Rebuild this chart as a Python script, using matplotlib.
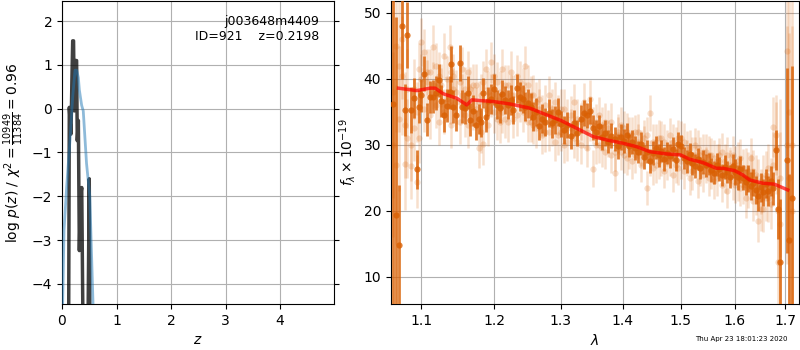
import numpy as np
import matplotlib
matplotlib.use("Agg")
import matplotlib.pyplot as plt
from matplotlib.ticker import NullLocator, FixedLocator, FixedFormatter

# ---------------- left panel data: log p(z) ----------------
z_fit = [0.0, 0.012, 0.037, 0.086, 0.147, 0.196, 0.239, 0.269, 0.30, 0.318,
         0.36, 0.39, 0.45, 0.51, 0.57, 0.60]
logp_fit = [-6.0, -4.45, -2.77, -1.78, -0.71, 0.27, 0.88, 0.88, 0.71, 0.43,
            0.08, -0.05, -1.25, -2.0, -4.5, -5.5]

z_chi = [0.110, 0.122, 0.134, 0.150, 0.165, 0.181, 0.196, 0.212, 0.226, 0.240,
         0.252, 0.268, 0.280, 0.300, 0.318, 0.340, 0.362, 0.392, 0.430, 0.470,
         0.500, 0.515, 0.540]
logp_chi = [-8.0, -5.0, 0.03, -0.3, -0.58, 0.6, 1.55, 1.55, -0.05, 1.1,
            1.1, 1.1, -0.73, -0.27, -3.24, -2.0, -1.80, -6.0, -9.0, -6.0,
            -1.60, -6.0, -9.0]

# ---------------- right panel data: spectrum ----------------
wave = [1.064, 1.067, 1.071, 1.075, 1.079, 1.082, 1.087, 1.090, 1.094, 1.097,
        1.100, 1.104, 1.108, 1.112, 1.116, 1.120, 1.123, 1.126, 1.130, 1.134,
        1.138, 1.140, 1.143, 1.147, 1.152, 1.155, 1.159, 1.163, 1.166, 1.170,
        1.174, 1.178, 1.181, 1.184, 1.188, 1.192, 1.196, 1.200, 1.204, 1.208,
        1.212, 1.216, 1.220, 1.224, 1.228, 1.233, 1.238, 1.242, 1.246, 1.250,
        1.254, 1.258, 1.262, 1.266, 1.271, 1.276, 1.281, 1.286, 1.291, 1.296,
        1.300, 1.305, 1.310, 1.315, 1.320, 1.326, 1.331, 1.336, 1.341, 1.346,
        1.351, 1.356, 1.361, 1.366, 1.371, 1.376, 1.381, 1.386, 1.391, 1.396,
        1.401, 1.406, 1.411, 1.416, 1.421, 1.426, 1.431, 1.436, 1.441, 1.446,
        1.451, 1.456, 1.461, 1.466, 1.471, 1.476, 1.481, 1.486, 1.491, 1.496,
        1.501, 1.506, 1.511, 1.516, 1.521, 1.526, 1.531, 1.536, 1.541, 1.546,
        1.551, 1.556, 1.561, 1.566, 1.571, 1.576, 1.581, 1.586, 1.591, 1.596,
        1.601, 1.606, 1.611, 1.616, 1.621, 1.626, 1.631, 1.636, 1.641, 1.646,
        1.651, 1.656, 1.661, 1.666, 1.671, 1.676, 1.681, 1.686, 1.689,
        1.704, 1.707, 1.713]

flux_bin = [36.2, 19.4, 14.9, 48.0, 35.3, 46.7, 35.3, 37.1, 26.3, 35.8,
            37.5, 40.8, 33.8, 37.3, 37.3, 37.9, 39.8, 36.6, 34.5, 35.9,
            38.0, 42.3, 35.8, 34.5, 42.4, 35.8, 35.6, 37.9, 33.8, 35.2,
            33.0, 33.9, 33.4, 37.9, 34.2, 36.6, 37.0, 38.4, 36.1, 35.6,
            37.7, 36.8, 36.1, 36.8, 35.3, 38.6, 37.3, 36.9, 35.8, 36.3,
            35.8, 34.3, 35.0, 32.8, 34.0, 33.5, 34.8, 33.3, 33.8, 35.0,
            33.2, 32.3, 33.0, 31.3, 33.3, 31.8, 33.9, 34.8, 34.5, 35.2,
            32.6, 31.9, 32.8, 31.2, 31.8, 30.5, 31.4, 30.9, 29.8, 31.2,
            30.6, 31.5, 29.9, 30.4, 29.5, 28.9, 30.2, 28.2, 29.0, 27.6,
            28.8, 29.6, 28.4, 29.1, 27.9, 28.8, 28.3, 29.4, 27.7, 30.2,
            29.8, 28.0, 27.5, 28.6, 27.2, 26.8, 27.9, 26.5, 27.4, 26.9,
            27.1, 26.2, 25.8, 27.0, 26.4, 25.4, 26.6, 25.9, 25.2, 26.8,
            25.9, 25.1, 26.3, 25.0, 24.4, 24.9, 23.8, 24.3, 23.2, 22.2,
            23.6, 22.8, 24.1, 23.0, 24.5, 23.4, 29.2, 20.3, 12.3,
            27.7, 15.6, 21.9]

err_bin = [40, 30, 9, 8, 4, 5, 3.5, 3, 3, 2.5,
           2.5, 2.6, 2.5, 2.4, 2.5, 2.6, 2.5, 2.4, 2.5, 2.5,
           2.5, 2.7, 2.5, 2.4, 2.7, 2.5, 2.4, 2.5, 2.5, 2.4,
           2.3, 2.3, 2.2, 2.3, 2.3, 2.2, 2.3, 2.3, 2.2, 2.3,
           2.2, 2.1, 2.2, 2.2, 2.1, 2.2, 2.2, 2.1, 2.2, 2.2,
           2.1, 2.2, 2.1, 2.1, 2.2, 2.1, 2.1, 2.2, 2.1, 2.1,
           2.0, 2.1, 2.0, 1.9, 2.0, 2.0, 2.1, 2.0, 1.9, 2.0,
           1.9, 1.9, 1.8, 1.9, 1.9, 1.8, 1.9, 1.8, 1.9, 1.9,
           1.8, 1.8, 1.7, 1.8, 1.8, 1.7, 1.8, 1.8, 1.7, 1.8,
           1.8, 1.7, 1.8, 1.7, 1.8, 1.7, 1.8, 1.8, 1.7, 1.8,
           1.7, 1.7, 1.8, 1.7, 1.7, 1.8, 1.7, 1.7, 1.8, 1.7,
           1.7, 1.8, 1.7, 1.7, 1.8, 1.7, 1.8, 1.7, 1.8, 1.8,
           1.9, 1.9, 2.0, 1.9, 2.0, 2.0, 2.1, 2.0, 2.1, 2.2,
           2.2, 2.1, 2.2, 2.3, 2.3, 2.5, 3.0, 4.5, 9.5,
           14, 10, 20]

flux_a = [30.0, 27.0, 42.0, 46.0, 27.1, 31.0, 26.8, 38.5, 24.4, 31.0,
          45.6, 44.0, 39.5, 41.0, 44.8, 36.0, 40.5, 39.0, 43.5, 37.0,
          44.8, 41.0, 38.5, 36.5, 39.5, 37.5, 34.5, 41.0, 36.0, 39.0,
          35.5, 29.6, 37.5, 30.1, 41.5, 38.0, 42.5, 35.0, 39.5, 33.5,
          41.5, 34.0, 39.0, 37.5, 34.0, 40.5, 36.5, 38.5, 42.0, 33.5,
          37.5, 33.0, 36.5, 35.5, 31.5, 36.0, 32.0, 35.5, 30.5, 34.5,
          35.5, 30.0, 34.0, 32.5, 36.5, 30.5, 33.5, 36.5, 32.0, 37.0,
          26.4, 33.5, 30.0, 33.0, 29.0, 32.5, 28.5, 25.8, 32.0, 29.0,
          32.5, 28.0, 31.5, 27.5, 32.0, 30.5, 27.0, 31.0, 23.5, 34.8,
          26.5, 30.5, 27.5, 31.0, 26.0, 29.5, 31.5, 25.5, 30.0, 26.5,
          31.0, 26.0, 29.5, 25.0, 28.5, 30.0, 24.5, 28.5, 25.5, 29.0,
          25.0, 28.5, 24.5, 27.5, 28.5, 24.0, 27.5, 23.0, 27.0, 28.5,
          24.0, 27.5, 23.5, 26.5, 22.0, 26.0, 28.0, 21.5, 25.5, 18.5,
          20.3, 25.0, 22.0, 26.5, 21.0, 32.7, 31.5, 12.3, 25.0,
          44.3, 35.0, 30.0]

err_a = [14, 12, 10, 9, 7, 6, 5, 4.5, 4, 3.8,
         3.6, 3.5, 3.4, 3.5, 3.3, 3.4, 3.5, 3.3, 3.4, 3.3,
         3.3, 3.4, 3.2, 3.3, 3.4, 3.2, 3.3, 3.3, 3.2, 3.3,
         3.2, 3.1, 3.2, 3.2, 3.1, 3.2, 3.1, 3.2, 3.1, 3.2,
         3.1, 3.0, 3.1, 3.1, 3.0, 3.1, 3.0, 3.1, 3.0, 3.1,
         3.0, 2.9, 3.0, 3.0, 2.9, 3.0, 2.9, 3.0, 2.9, 3.0,
         2.9, 2.8, 2.9, 2.9, 2.8, 2.9, 2.8, 2.9, 2.8, 2.9,
         2.8, 2.7, 2.8, 2.8, 2.7, 2.8, 2.7, 2.8, 2.7, 2.8,
         2.7, 2.6, 2.7, 2.7, 2.6, 2.7, 2.6, 2.7, 2.6, 2.7,
         2.6, 2.6, 2.7, 2.6, 2.6, 2.7, 2.6, 2.6, 2.7, 2.6,
         2.6, 2.7, 2.6, 2.6, 2.7, 2.6, 2.6, 2.7, 2.6, 2.6,
         2.7, 2.6, 2.7, 2.7, 2.6, 2.7, 2.7, 2.6, 2.7, 2.8,
         2.8, 2.9, 2.8, 2.9, 3.0, 2.9, 3.0, 3.1, 3.0, 3.2,
         3.3, 3.4, 3.5, 3.6, 3.8, 4.5, 6, 9, 12,
         16, 20, 25]

flux_b = [38.0, 45.0, 34.0, 40.5, 33.0, 38.5, 30.0, 32.5, 35.0, 41.5,
          40.0, 35.5, 41.0, 34.5, 39.0, 42.0, 33.5, 38.0, 35.0, 40.0,
          36.5, 33.0, 40.5, 38.0, 33.5, 41.5, 38.5, 33.0, 38.5, 35.5,
          39.0, 36.5, 32.0, 39.5, 35.5, 33.0, 37.5, 40.5, 34.0, 38.0,
          35.0, 39.0, 33.5, 41.0, 37.5, 34.5, 39.5, 35.0, 36.5, 39.0,
          33.5, 37.5, 32.5, 37.0, 34.5, 32.0, 37.5, 33.0, 36.5, 31.5,
          32.0, 35.5, 30.5, 34.5, 31.0, 34.0, 30.0, 32.5, 29.5, 33.5,
          33.0, 30.0, 34.5, 29.5, 33.5, 31.0, 33.5, 29.0, 31.5, 33.0,
          28.5, 32.0, 29.0, 31.5, 28.5, 32.0, 29.5, 30.0, 31.5, 28.0,
          30.5, 27.0, 31.0, 28.0, 30.5, 27.5, 28.0, 30.5, 27.0, 31.0,
          27.5, 30.5, 28.0, 29.5, 26.0, 28.5, 29.5, 26.5, 29.0, 27.0,
          28.5, 26.0, 28.0, 25.0, 27.5, 29.0, 25.5, 28.5, 26.5, 24.5,
          27.0, 24.5, 28.0, 24.0, 26.5, 23.5, 25.5, 26.0, 22.5, 24.5,
          23.0, 20.3, 25.5, 22.0, 24.0, 27.0, 29.5, 20.0, 18.0,
          30.0, 25.0, 20.0]

err_b = [16, 13, 11, 9, 8, 6, 5.5, 5, 4.5, 4,
         3.7, 3.6, 3.5, 3.6, 3.5, 3.4, 3.5, 3.6, 3.4, 3.5,
         3.4, 3.5, 3.3, 3.4, 3.3, 3.4, 3.3, 3.4, 3.3, 3.3,
         3.3, 3.2, 3.3, 3.2, 3.3, 3.2, 3.2, 3.3, 3.2, 3.2,
         3.2, 3.1, 3.1, 3.2, 3.1, 3.1, 3.2, 3.1, 3.1, 3.1,
         3.0, 3.1, 3.0, 3.0, 3.1, 3.0, 3.0, 3.1, 3.0, 3.0,
         2.9, 3.0, 2.9, 2.9, 3.0, 2.9, 2.9, 3.0, 2.9, 2.9,
         2.8, 2.9, 2.8, 2.8, 2.9, 2.8, 2.8, 2.9, 2.8, 2.8,
         2.7, 2.8, 2.7, 2.7, 2.8, 2.7, 2.7, 2.8, 2.7, 2.7,
         2.7, 2.7, 2.8, 2.7, 2.7, 2.8, 2.7, 2.7, 2.8, 2.7,
         2.7, 2.8, 2.7, 2.7, 2.8, 2.7, 2.7, 2.8, 2.7, 2.7,
         2.8, 2.7, 2.8, 2.8, 2.7, 2.8, 2.8, 2.7, 2.8, 2.9,
         2.9, 3.0, 2.9, 3.0, 3.1, 3.0, 3.1, 3.2, 3.1, 3.3,
         3.4, 3.5, 3.6, 3.7, 4.0, 5, 7, 10, 14,
         18, 22, 28]

model_wave = [1.0706, 1.0944, 1.1119, 1.1185, 1.1297, 1.1478, 1.1616, 1.1686,
              1.2000, 1.2232, 1.2528, 1.2779, 1.3000, 1.3244, 1.3510, 1.3728,
              1.4000, 1.4229, 1.4456, 1.4747, 1.5000, 1.5162, 1.5405, 1.5653,
              1.5777, 1.6000, 1.6158, 1.6287, 1.6547, 1.6780, 1.7049]
model_flux = [38.59, 38.23, 38.6, 38.6, 37.73, 37.07, 36.06, 36.82,
              36.56, 36.2, 35.56, 34.55, 33.7, 32.53, 31.26, 30.76,
              30.25, 29.74, 28.98, 28.64, 28.48, 27.83, 27.32, 26.46,
              26.46, 26.1, 25.45, 24.7, 24.2, 24.05, 23.18]

wave_ticks = [1.1, 1.2, 1.3, 1.4, 1.5, 1.6, 1.7]
wave_ticklabels = ['1.1', '1.2', '1.3', '1.4', '1.5', '1.6', '1.7']

obj_text = 'j003648m4409\nID=921    z=0.2198'
timestamp = 'Thu Apr 23 18:01:23 2020'

# ---------------- figure ----------------
fig = plt.figure(figsize=(8, 3.5), dpi=100)
ax1 = fig.add_axes([62/800, 46/350, 272/800, 303/350])
ax2 = fig.add_axes([391/800, 46/350, 408/800, 303/350])

ax1.plot(z_fit, logp_fit, color='#1f77b4', alpha=0.5, lw=2, zorder=3)
ax1.plot(z_chi, logp_chi, color='k', alpha=0.75, lw=2.5, zorder=2)
ax1.set_xlim(0, 4.99)
ax1.set_ylim(-4.46, 2.46)
ax1.set_xticks([0, 1, 2, 3, 4])
ax1.set_yticks([-4, -3, -2, -1, 0, 1, 2])
ax1.tick_params(right=True)
ax1.grid(True)
ax1.set_axisbelow(True)
ax1.set_xlabel('$z$')
ax1.set_ylabel(r'$\log\,p(z)$ / $\chi^2=\frac{10949}{11384}=0.96$')
ax1.text(0.945, 0.955, obj_text, ha='right', va='top', fontsize=9,
         transform=ax1.transAxes, multialignment='right')

c = '#d95f02'
ax2.errorbar(wave, flux_a, yerr=err_a, fmt='o', color=c, alpha=0.2, ms=4.5,
             mew=0, elinewidth=1.8, capsize=0, zorder=2)
ax2.errorbar(wave, flux_b, yerr=err_b, fmt='o', color=c, alpha=0.2, ms=4.5,
             mew=0, elinewidth=1.8, capsize=0, zorder=2)
ax2.errorbar(wave, flux_bin, yerr=err_bin, fmt='o', color=c, alpha=0.8, ms=4.5,
             mew=0, elinewidth=2.0, capsize=0, zorder=3)
ax2.plot(model_wave, model_flux, color='r', alpha=0.7, lw=2.5, zorder=4)

ax2.set_xscale('log')
ax2.xaxis.set_major_locator(FixedLocator(wave_ticks))
ax2.xaxis.set_major_formatter(FixedFormatter(wave_ticklabels))
ax2.xaxis.set_minor_locator(NullLocator())
ax2.set_xlim(1.061, 1.728)
ax2.set_ylim(5.9, 51.8)
ax2.set_yticks([10, 20, 30, 40, 50])
ax2.grid(True)
ax2.set_axisbelow(True)
ax2.set_xlabel(r'$\lambda$')
ax2.set_ylabel(r'$f_\lambda\times10^{-19}$')

fig.text(0.984, 0.031, timestamp, ha='right', va='center', fontsize=5)

fig.savefig('out.png', dpi=100)
